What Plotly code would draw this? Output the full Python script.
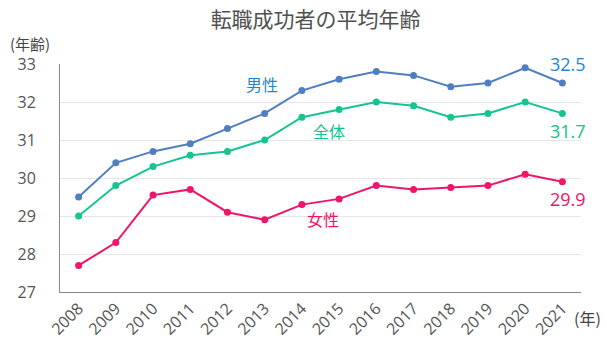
import plotly.graph_objects as go

years = list(range(2008, 2022))
male = [29.5, 30.4, 30.7, 30.9, 31.3, 31.7, 32.3, 32.6, 32.8, 32.7, 32.4, 32.5, 32.9, 32.5]
total = [29.0, 29.8, 30.3, 30.6, 30.7, 31.0, 31.6, 31.8, 32.0, 31.9, 31.6, 31.7, 32.0, 31.7]
female = [27.7, 28.3, 29.55, 29.7, 29.1, 28.9, 29.3, 29.45, 29.8, 29.7, 29.75, 29.8, 30.1, 29.9]
series_names = ["男性", "全体", "女性"]
end_labels = ["32.5", "31.7", "29.9"]

line_colors = ["#4f7fc1", "#16c493", "#f0146b"]
text_colors = ["#1f86d0", "#12c190", "#f0146b"]
CJK = "Noto Sans CJK JP"
FONT = "Open Sans, Noto Sans CJK JP"

fig = go.Figure()
for name, vals, lc in zip(series_names, [male, total, female], line_colors):
    fig.add_trace(go.Scatter(
        x=years, y=vals, mode="lines+markers", name=name,
        line=dict(color=lc, width=2), marker=dict(color=lc, size=7),
        showlegend=False, hoverinfo="skip"))

# series name labels
name_pos = [(2012.93, 32.47), (2014.73, 31.24), (2014.57, 28.92)]
for name, (x, y), tc in zip(series_names, name_pos, text_colors):
    fig.add_annotation(x=x, y=y, text=name, showarrow=False,
                       font=dict(family=CJK, size=16, color=tc))

# end value labels
shifts = [19, -18, -17]
for lab, vals, tc, ys in zip(end_labels, [male, total, female], text_colors, shifts):
    fig.add_annotation(x=years[-1], y=vals[-1], text=lab, showarrow=False,
                       xshift=6, yshift=ys,
                       font=dict(family=FONT, size=18, color=tc))

fig.add_annotation(xref="paper", yref="paper", x=-0.058, y=1.09, text="(年齢)",
                   showarrow=False, xanchor="center", yanchor="middle",
                   font=dict(family=CJK, size=15, color="#444"))
fig.add_annotation(xref="paper", yref="paper", x=1.042, y=-0.114, text="(年)",
                   showarrow=False, xanchor="right", yanchor="middle",
                   font=dict(family=CJK, size=16, color="#444"))

fig.update_layout(
    width=607, height=354,
    margin=dict(l=60, r=26, t=64, b=62),
    plot_bgcolor="white", paper_bgcolor="white",
    title=dict(text="転職成功者の平均年齢", x=0.52, xanchor="center", y=0.945, yanchor="middle",
               font=dict(family=CJK, size=21, color="#505050")),
    font=dict(family=FONT, color="#555"),
)
fig.update_xaxes(range=[2007.5, 2021.5], tickvals=years, ticktext=[str(y) for y in years],
                 tickangle=-45, showgrid=False, showline=True, linecolor="#888", linewidth=1,
                 tickfont=dict(family=FONT, size=16, color="#555"), ticks="", zeroline=False)
fig.update_yaxes(range=[27, 33], dtick=1, showgrid=True, gridcolor="#e6e6e6",
                 showline=True, linecolor="#888", linewidth=1, zeroline=False,
                 tickfont=dict(family=FONT, size=16, color="#555"), ticks="", ticklabelstandoff=20)

fig.write_html("out.html")
